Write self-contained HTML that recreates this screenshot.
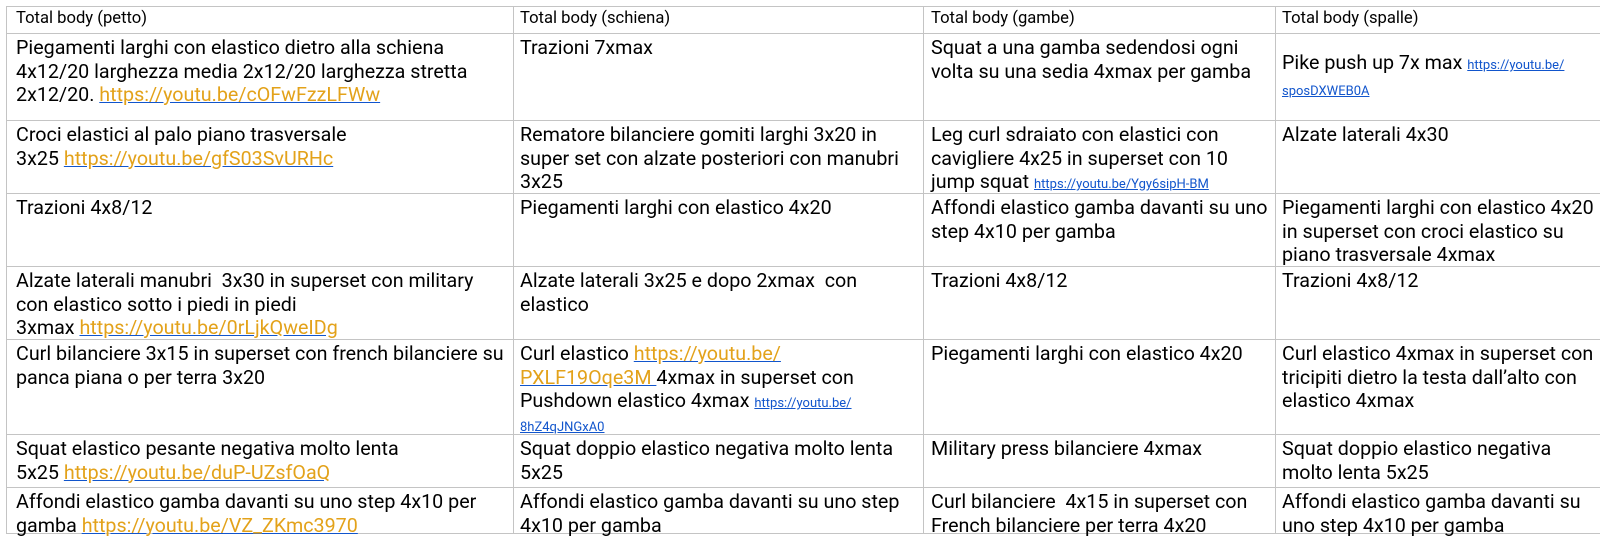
<!DOCTYPE html>
<html><head><meta charset="utf-8"><style>
html,body{margin:0;padding:0;background:#fff;width:1600px;height:538px;overflow:hidden;position:relative}
body{font-family:"Roboto","Liberation Sans",Arial,sans-serif;color:#000}
.h{position:absolute;left:6px;width:1620px;height:1px;background:#c4c4c4}
.v{position:absolute;top:6px;width:1px;height:527px;background:#c4c4c4}
.c{position:absolute;font-size:19.7px;line-height:23.5px;white-space:nowrap}
.hd{position:absolute;font-size:16.6px;line-height:20px;white-space:nowrap;top:9px}
.y{color:#e3a21a;text-decoration:underline;text-decoration-color:#1155cc}
.s{color:#1155cc;text-decoration:underline;font-size:13px}
</style></head><body>
<div class="h" style="top:6px"></div>
<div class="h" style="top:33px"></div>
<div class="h" style="top:120px"></div>
<div class="h" style="top:193px"></div>
<div class="h" style="top:266px"></div>
<div class="h" style="top:339px"></div>
<div class="h" style="top:434px"></div>
<div class="h" style="top:487px"></div>
<div class="h" style="top:533px"></div>
<div class="v" style="left:6px"></div>
<div class="v" style="left:513px"></div>
<div class="v" style="left:923px"></div>
<div class="v" style="left:1275px"></div>

<div class="hd" style="left:16px">Total body (petto)</div>
<div class="hd" style="left:520px">Total body (schiena)</div>
<div class="hd" style="left:931px">Total body (gambe)</div>
<div class="hd" style="left:1282px">Total body (spalle)</div>

<!-- row1 -->
<div class="c" style="left:16px;top:36px">Piegamenti larghi con elastico dietro alla schiena<br>4x12/20 larghezza media 2x12/20 larghezza stretta<br>2x12/20. <span class="y">https://youtu.be/cOFwFzzLFWw</span></div>
<div class="c" style="left:520px;top:36px">Trazioni 7xmax</div>
<div class="c" style="left:931px;top:36px">Squat a una gamba sedendosi ogni<br>volta su una sedia 4xmax per gamba</div>
<div class="c" style="left:1282px;top:51px">Pike push up 7x max <span class="s">https://youtu.be/</span></div>
<div class="c" style="left:1282px;top:77px"><span class="s">sposDXWEB0A</span></div>

<!-- row2 -->
<div class="c" style="left:16px;top:123px">Croci elastici al palo piano trasversale<br>3x25 <span class="y">https://youtu.be/gfS03SvURHc</span></div>
<div class="c" style="left:520px;top:123px">Rematore bilanciere gomiti larghi 3x20 in<br>super set con alzate posteriori con manubri<br>3x25</div>
<div class="c" style="left:931px;top:123px">Leg curl sdraiato con elastici con<br>cavigliere 4x25 in superset con 10<br>jump squat <span class="s">https://youtu.be/Ygy6sipH-BM</span></div>
<div class="c" style="left:1282px;top:123px">Alzate laterali 4x30</div>

<!-- row3 -->
<div class="c" style="left:16px;top:196px">Trazioni 4x8/12</div>
<div class="c" style="left:520px;top:196px">Piegamenti larghi con elastico 4x20</div>
<div class="c" style="left:931px;top:196px">Affondi elastico gamba davanti su uno<br>step 4x10 per gamba</div>
<div class="c" style="left:1282px;top:196px">Piegamenti larghi con elastico 4x20<br>in superset con croci elastico su<br>piano trasversale 4xmax</div>

<!-- row4 -->
<div class="c" style="left:16px;top:269px">Alzate laterali manubri&nbsp; 3x30 in superset con military<br>con elastico sotto i piedi in piedi<br>3xmax <span class="y">https://youtu.be/0rLjkQweIDg</span></div>
<div class="c" style="left:520px;top:269px">Alzate laterali 3x25 e dopo 2xmax&nbsp; con<br>elastico</div>
<div class="c" style="left:931px;top:269px">Trazioni 4x8/12</div>
<div class="c" style="left:1282px;top:269px">Trazioni 4x8/12</div>

<!-- row5 -->
<div class="c" style="left:16px;top:342px">Curl bilanciere 3x15 in superset con french bilanciere su<br>panca piana o per terra 3x20</div>
<div class="c" style="left:520px;top:342px">Curl elastico <span class="y">https://youtu.be/</span><br><span class="y">PXLF19Oqe3M </span>4xmax in superset con<br>Pushdown elastico 4xmax <span class="s">https://youtu.be/</span></div>
<div class="c" style="left:520px;top:413px"><span class="s">8hZ4qJNGxA0</span></div>
<div class="c" style="left:931px;top:342px">Piegamenti larghi con elastico 4x20</div>
<div class="c" style="left:1282px;top:342px">Curl elastico 4xmax in superset con<br>tricipiti dietro la testa dall’alto con<br>elastico 4xmax</div>

<!-- row6 -->
<div class="c" style="left:16px;top:437px">Squat elastico pesante negativa molto lenta<br>5x25 <span class="y">https://youtu.be/duP-UZsfOaQ</span></div>
<div class="c" style="left:520px;top:437px">Squat doppio elastico negativa molto lenta<br>5x25</div>
<div class="c" style="left:931px;top:437px">Military press bilanciere 4xmax</div>
<div class="c" style="left:1282px;top:437px">Squat doppio elastico negativa<br>molto lenta 5x25</div>

<!-- row7 -->
<div class="c" style="left:16px;top:490px">Affondi elastico gamba davanti su uno step 4x10 per<br>gamba <span class="y">https://youtu.be/VZ_ZKmc3970</span></div>
<div class="c" style="left:520px;top:490px">Affondi elastico gamba davanti su uno step<br>4x10 per gamba</div>
<div class="c" style="left:931px;top:490px">Curl bilanciere&nbsp; 4x15 in superset con<br>French bilanciere per terra 4x20</div>
<div class="c" style="left:1282px;top:490px">Affondi elastico gamba davanti su<br>uno step 4x10 per gamba</div>
</body></html>
